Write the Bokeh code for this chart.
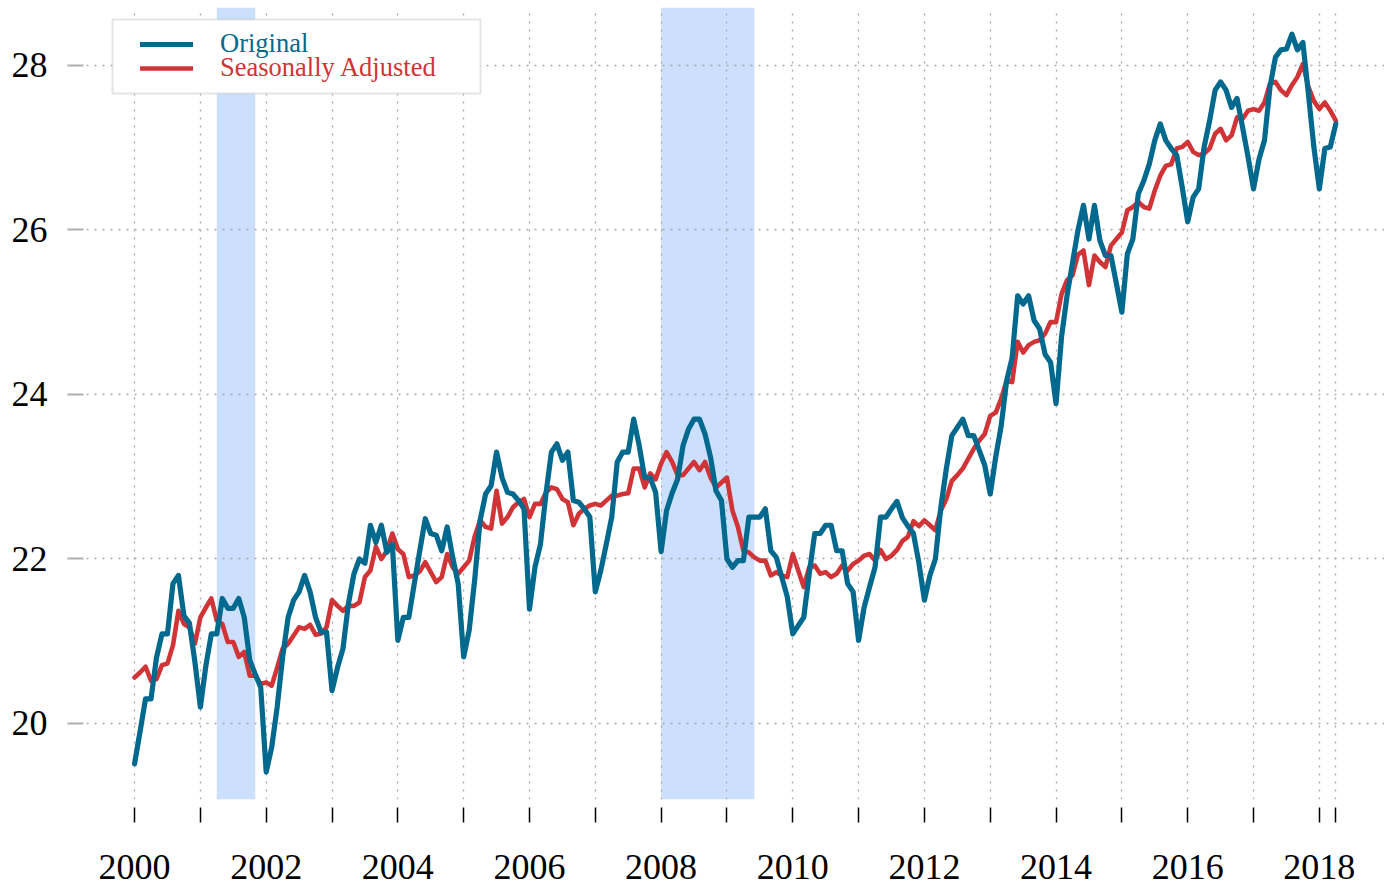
from bokeh.plotting import figure
from bokeh.models import (Range1d, FixedTicker, CustomJSTickFormatter, BoxAnnotation,
                          Legend, LegendItem)
from bokeh.core.properties import value
from bokeh.embed import file_html
from bokeh.resources import INLINE

# ---------------- data (monthly, Jan 2000 - Apr 2018) ----------------
start_year = 2000
original = [
    19.51, 19.90, 20.30, 20.30, 20.80, 21.09, 21.09, 21.70, 21.80, 21.31, 21.22, 20.75,
    20.20, 20.70, 21.09, 21.09, 21.52, 21.40, 21.40, 21.52, 21.29, 20.77, 20.60, 20.44,
    19.41, 19.71, 20.20, 20.81, 21.29, 21.50, 21.60, 21.80, 21.60, 21.29, 21.11, 21.11,
    20.40, 20.68, 20.91, 21.46, 21.82, 22.00, 21.95, 22.41, 22.20, 22.41, 22.08, 22.18,
    21.01, 21.29, 21.29, 21.70, 22.10, 22.49, 22.31, 22.29, 22.10, 22.39, 22.02, 21.70,
    20.81, 21.13, 21.74, 22.47, 22.79, 22.89, 23.30, 22.99, 22.81, 22.79, 22.71, 22.61,
    21.39, 21.90, 22.18, 22.79, 23.30, 23.40, 23.20, 23.30, 22.71, 22.69, 22.61, 22.51,
    21.60, 21.86, 22.18, 22.51, 23.18, 23.30, 23.30, 23.70, 23.38, 22.99, 22.99, 22.81,
    22.09, 22.59, 22.80, 22.97, 23.38, 23.58, 23.70, 23.70, 23.52, 23.24, 22.83, 22.71,
    22.00, 21.90, 21.98, 21.98, 22.51, 22.51, 22.51, 22.61, 22.10, 22.02, 21.78, 21.54,
    21.09, 21.19, 21.29, 21.82, 22.31, 22.31, 22.41, 22.41, 22.10, 22.10, 21.70, 21.60,
    21.01, 21.41, 21.66, 21.90, 22.51, 22.51, 22.61, 22.70, 22.50, 22.40, 22.31, 21.95,
    21.50, 21.80, 22.00, 22.63, 23.10, 23.50, 23.60, 23.70, 23.50, 23.50, 23.32, 23.14,
    22.79, 23.24, 23.62, 24.17, 24.45, 25.20, 25.10, 25.20, 24.90, 24.80, 24.49, 24.39,
    23.89, 24.70, 25.20, 25.60, 26.00, 26.30, 25.89, 26.30, 25.87, 25.69, 25.69, 25.35,
    25.00, 25.71, 25.89, 26.44, 26.60, 26.80, 27.09, 27.29, 27.09, 26.99, 26.91, 26.52,
    26.10, 26.40, 26.50, 27.01, 27.33, 27.70, 27.80, 27.70, 27.49, 27.60, 27.25, 26.89,
    26.50, 26.86, 27.09, 27.74, 28.10, 28.19, 28.20, 28.38, 28.19, 28.28, 27.66, 27.01,
    26.50, 26.99, 27.01, 27.29,
]
seasonally_adjusted = [
    20.56, 20.62, 20.69, 20.52, 20.54, 20.71, 20.73, 20.95, 21.37, 21.21, 21.17, 20.97,
    21.29, 21.41, 21.52, 21.25, 21.21, 20.99, 20.99, 20.81, 20.87, 20.58, 20.58, 20.48,
    20.50, 20.46, 20.68, 20.91, 20.97, 21.07, 21.17, 21.15, 21.20, 21.08, 21.09, 21.17,
    21.50, 21.43, 21.37, 21.43, 21.43, 21.47, 21.78, 21.86, 22.15, 22.00, 22.10, 22.31,
    22.12, 22.06, 21.78, 21.80, 21.85, 21.96, 21.84, 21.72, 21.78, 22.06, 21.90, 21.82,
    21.90, 21.98, 22.27, 22.47, 22.39, 22.37, 22.83, 22.43, 22.51, 22.63, 22.69, 22.73,
    22.51, 22.67, 22.67, 22.81, 22.87, 22.85, 22.73, 22.69, 22.41, 22.55, 22.61, 22.65,
    22.67, 22.65, 22.71, 22.77, 22.77, 22.79, 22.80, 23.10, 23.10, 22.87, 23.04, 22.97,
    23.16, 23.30, 23.18, 23.02, 23.02, 23.10, 23.18, 23.08, 23.18, 22.99, 22.87, 22.93,
    22.99, 22.59, 22.39, 22.10, 22.08, 22.02, 21.98, 21.98, 21.80, 21.84, 21.80, 21.78,
    22.06, 21.86, 21.66, 21.90, 21.92, 21.82, 21.84, 21.78, 21.82, 21.92, 21.86, 21.94,
    21.98, 22.04, 22.06, 21.98, 22.11, 22.00, 22.04, 22.11, 22.22, 22.27, 22.46, 22.40,
    22.47, 22.41, 22.35, 22.59, 22.73, 22.95, 23.02, 23.10, 23.22, 23.34, 23.44, 23.52,
    23.74, 23.78, 23.95, 24.17, 24.15, 24.64, 24.51, 24.60, 24.64, 24.66, 24.74, 24.88,
    24.88, 25.22, 25.39, 25.45, 25.70, 25.75, 25.33, 25.69, 25.61, 25.55, 25.81, 25.89,
    25.97, 26.24, 26.28, 26.34, 26.28, 26.26, 26.48, 26.66, 26.78, 26.80, 26.99, 27.01,
    27.07, 26.95, 26.91, 26.93, 26.99, 27.17, 27.23, 27.09, 27.15, 27.37, 27.35, 27.45,
    27.47, 27.45, 27.55, 27.78, 27.80, 27.70, 27.64, 27.76, 27.86, 28.02, 27.74, 27.57,
    27.47, 27.55, 27.45, 27.33,
]
dates = [start_year + m / 12 for m in range(len(original))]

recession_start = [2001.25, 2008.0]
recession_end = [2001.8333, 2009.4167]

x_ticks = list(range(2000, 2019)) + [dates[-1]]
y_ticks = [20, 22, 24, 26, 28]
series_names = ["Original", "Seasonally Adjusted"]

# ---------------- style ----------------
BLUE = "#00698d"
RED = "#d03437"
SHADE = "#cce0fd"
GRID = "#a8a8a8"
FONT = "Liberation Serif"

p = figure(width=1384, height=885, output_backend="svg", toolbar_location=None,
           x_range=Range1d(1999.27, 2018.99), y_range=Range1d(19.076, 28.705),
           min_border_left=86, min_border_right=0, min_border_top=7,
           min_border_bottom=86)
p.outline_line_color = None
p.background_fill_color = "white"
p.border_fill_color = "white"

# axes
p.xaxis.ticker = FixedTicker(ticks=x_ticks)
p.xaxis.formatter = CustomJSTickFormatter(
    code="return (Math.abs(tick % 2) < 1e-6) ? tick.toFixed(0) : '';")
p.xaxis.axis_line_color = None
p.xaxis.major_tick_in = -8
p.xaxis.major_tick_out = 23
p.xaxis.major_tick_line_color = "black"
p.xaxis.major_tick_line_width = 1.5
p.xaxis.minor_tick_line_color = None
p.xaxis.major_label_text_font = FONT
p.xaxis.major_label_text_font_size = "36px"
p.xaxis.major_label_text_color = "black"
p.xaxis.major_label_standoff = 32

p.yaxis.ticker = FixedTicker(ticks=y_ticks)
p.yaxis.axis_line_color = None
p.yaxis.major_tick_in = -3
p.yaxis.major_tick_out = 19
p.yaxis.major_tick_line_color = "#b0b0b0"
p.yaxis.major_tick_line_width = 2
p.yaxis.minor_tick_line_color = None
p.yaxis.major_label_text_font = FONT
p.yaxis.major_label_text_font_size = "36px"
p.yaxis.major_label_text_color = "black"
p.yaxis.major_label_standoff = 20

for g in (p.xgrid, p.ygrid):
    g.grid_line_color = GRID
    g.grid_line_dash = "2 6"
    g.grid_line_width = 1.3
    g.level = "underlay"

# recession shading
for s, e in zip(recession_start, recession_end):
    p.add_layout(BoxAnnotation(left=s, right=e, fill_color=SHADE, fill_alpha=1.0,
                               line_color=None, level="image"))

# series
r_sa = p.line(dates, seasonally_adjusted, line_color=RED, line_width=4.6,
              line_join="round", line_cap="round")
r_or = p.line(dates, original, line_color=BLUE, line_width=5.2,
              line_join="round", line_cap="round")

# legend frame
p.add_layout(BoxAnnotation(left=26, right=394, top=780, bottom=706,
                           left_units="screen", right_units="screen",
                           top_units="screen", bottom_units="screen",
                           fill_color="white", fill_alpha=1.0,
                           line_color="#a8a8a8", line_width=2))

common = dict(padding=0, margin=0, spacing=0, glyph_width=53, glyph_height=24,
              label_height=24, label_standoff=27, label_text_font=FONT,
              label_text_font_size="26.5px", border_line_alpha=0,
              background_fill_alpha=0, orientation="vertical")
leg1 = Legend(items=[LegendItem(label=value(series_names[0]), renderers=[r_or])],
              location=(54, 740), label_text_color=BLUE, **common)
leg2 = Legend(items=[LegendItem(label=value(series_names[1]), renderers=[r_sa])],
              location=(54, 716), label_text_color=RED, **common)
p.add_layout(leg1)
p.add_layout(leg2)

open("out.html", "w").write(file_html(p, INLINE))
